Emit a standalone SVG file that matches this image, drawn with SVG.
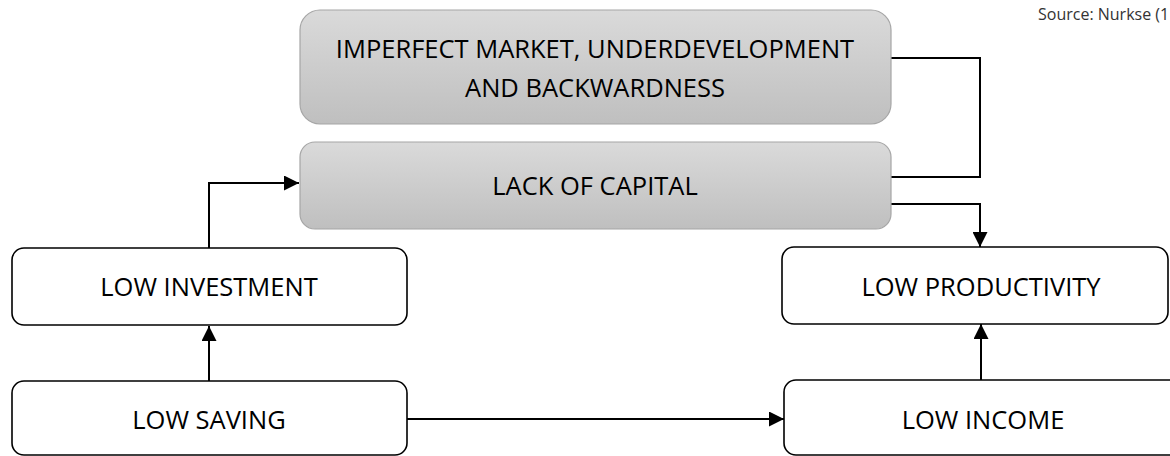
<svg xmlns="http://www.w3.org/2000/svg" width="1170" height="456" viewBox="0 0 1170 456">
<defs>
<linearGradient id="g" x1="0" y1="0" x2="0" y2="1">
<stop offset="0" stop-color="#dadada"/>
<stop offset="1" stop-color="#bfbfbf"/>
</linearGradient>
<marker id="ah" viewBox="0 0 15 15" refX="15" refY="7.5" markerWidth="15" markerHeight="15" markerUnits="userSpaceOnUse" orient="auto">
<path d="M0,0 L15,7.5 L0,15 z" fill="#000"/>
</marker>
</defs>
<style>
.gray{fill:url(#g);stroke:#a6a6a6;stroke-width:1.2}
.box{fill:#fff;stroke:#000;stroke-width:1.6}
.t{font-family:"Open Sans","Liberation Sans",sans-serif;font-size:25.5px;fill:#000;text-anchor:middle}
.src{font-family:"Open Sans","Liberation Sans",sans-serif;font-size:16px;fill:#333}
.c{fill:none;stroke:#000;stroke-width:2}
</style>
<rect width="1170" height="456" fill="#fff"/>
<text class="src" x="1038" y="20">Source: Nurkse (1</text>
<g id="connectors">
<polyline class="c" points="891,58 980,58 980,177 891,177"/>
<polyline class="c" points="891,204 980,204 980,247" marker-end="url(#ah)"/>
<polyline class="c" points="209,248 209,183 299,183" marker-end="url(#ah)"/>
<line class="c" x1="209" y1="381" x2="209" y2="326" marker-end="url(#ah)"/>
<line class="c" x1="981" y1="380" x2="981" y2="324" marker-end="url(#ah)"/>
<line class="c" x1="407" y1="419" x2="784" y2="419" marker-end="url(#ah)"/>
</g>
<g id="n-imperfect">
<rect class="gray" x="300" y="10" width="591" height="114" rx="20"/>
<text class="t" x="595" y="58">IMPERFECT MARKET, UNDERDEVELOPMENT</text>
<text class="t" x="595" y="97">AND BACKWARDNESS</text>
</g>
<g id="n-capital">
<rect class="gray" x="300" y="142" width="591" height="87" rx="15"/>
<text class="t" x="595" y="195">LACK OF CAPITAL</text>
</g>
<g id="n-investment">
<rect class="box" x="12" y="248" width="395" height="77" rx="12"/>
<text class="t" x="209" y="296">LOW INVESTMENT</text>
</g>
<g id="n-productivity">
<rect class="box" x="782" y="247" width="386" height="77" rx="12"/>
<text class="t" x="981" y="296">LOW PRODUCTIVITY</text>
</g>
<g id="n-saving">
<rect class="box" x="12" y="381" width="395" height="74" rx="12"/>
<text class="t" x="209" y="429">LOW SAVING</text>
</g>
<g id="n-income">
<rect class="box" x="784" y="380" width="400" height="75" rx="12"/>
<text class="t" x="983" y="429">LOW INCOME</text>
</g>
</svg>
